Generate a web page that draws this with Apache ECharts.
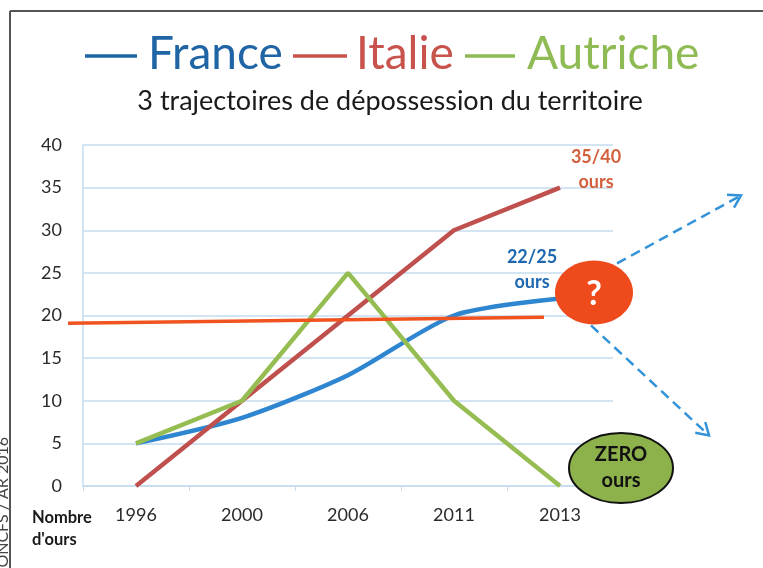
<!DOCTYPE html>
<html><head><meta charset="utf-8">
<script src="https://cdn.jsdelivr.net/npm/echarts@6/dist/echarts.min.js"></script>
<style>html,body{margin:0;padding:0;background:#fff}#c{width:763px;height:568px}</style>
</head><body><div id="c"></div>
<script>
// ---- data ----
const years = ['1996', '2000', '2006', '2011', '2013'];
const france = [5, 8, 13, 20, 22];
const italie = [0, 10, 20, 30, 35];
const autriche = [5, 10, 25, 10, 0];
const yMin = 0, yMax = 40, yStep = 5;
const refLevel = [19.1, 19.8]; // orange horizontal line (left, right)
const seriesNames = ['France', 'Italie', 'Autriche'];
const titleText = '3 trajectoires de dépossession du territoire';
const axisName = ['Nombre', "d'ours"];
const noteItalie = ['35/40', 'ours'];
const noteFrance = ['22/25', 'ours'];
const noteAutriche = ['ZERO', 'ours'];
const sideNote = '© ONCFS / AR 2016';

// ---- styles ----
const C = { fr: '#2f86d0', it: '#c0504d', au: '#96bd51', ref: '#f0531f', grid: '#c5dcef', txt: '#2b2b2b' };
const TC = ['#1f64a4', '#c8524c', '#8fbb55'];
const FONT = 'Lato, "Open Sans", sans-serif';

const chart = echarts.init(document.getElementById('c'), null, { renderer: 'canvas' });
const gridL = 83, gridR = 150, gridT = 145, gridB = 82;

function line(name, data, color, smooth) {
  return { name, type: 'line', data, smooth, symbol: 'none', lineStyle: { color, width: 4.5 }, itemStyle: { color }, z: 3 };
}

chart.setOption({
  backgroundColor: '#fff',
  animation: false,
  grid: { left: gridL, right: gridR, top: gridT, bottom: gridB },
  xAxis: {
    type: 'category', data: years, boundaryGap: true,
    axisLine: { lineStyle: { color: C.grid, width: 1.5 } },
    axisTick: { show: true, length: 5, lineStyle: { color: C.grid } },
    axisLabel: { color: C.txt, fontSize: 18, fontFamily: FONT, margin: 20 }
  },
  yAxis: {
    type: 'value', min: yMin, max: yMax, interval: yStep,
    axisLine: { show: true, lineStyle: { color: C.grid, width: 1.5 } },
    axisTick: { show: false },
    splitLine: { lineStyle: { color: C.grid, width: 1.5 } },
    axisLabel: { color: C.txt, fontSize: 18, fontFamily: FONT, margin: 21 }
  },
  series: [
    line(seriesNames[0], france, C.fr, 0.25),
    line(seriesNames[1], italie, C.it, false),
    line(seriesNames[2], autriche, C.au, false)
  ]
});

const xPix = i => chart.convertToPixel({ xAxisIndex: 0 }, years[i]);
const yPix = v => chart.convertToPixel({ yAxisIndex: 0 }, v);
const last = years.length - 1;
const xLast = xPix(last);

const qx = xLast + 34, qy = yPix(france[last]) - 6;
const zx = xLast + 61, zy = yPix(0) - 19;

function arrowHead(x1, y1, x2, y2, len) {
  const a = Math.atan2(y2 - y1, x2 - x1);
  const s = 0.55;
  return [[x2 - len * Math.cos(a - s), y2 - len * Math.sin(a - s)], [x2, y2], [x2 - len * Math.cos(a + s), y2 - len * Math.sin(a + s)]];
}
const a1 = [qx + 23, qy - 29, qx + 147, qy - 97];
const a2 = [qx - 3, qy + 33, qx + 115, qy + 143];

// title layout: [dashStart, dashEnd, wordX]
const titleLayout = [[85, 137, 148], [293, 347, 356], [465, 515, 527]];
const titleY = 54;
const titleGraphics = [];
seriesNames.forEach((n, i) => {
  const [d0, d1, wx] = titleLayout[i];
  titleGraphics.push({ type: 'line', shape: { x1: d0, y1: titleY + 2, x2: d1, y2: titleY + 2 }, style: { stroke: TC[i], lineWidth: 3.5 } });
  titleGraphics.push({ type: 'text', x: wx, y: titleY, style: { text: n, align: 'left', verticalAlign: 'middle', fill: TC[i], font: '46px ' + FONT } });
});

chart.setOption({
  graphic: [
    // frame
    { type: 'line', shape: { x1: 10, y1: 11, x2: 763, y2: 11 }, style: { stroke: '#555', lineWidth: 2 } },
    { type: 'line', shape: { x1: 10, y1: 11, x2: 10, y2: 568 }, style: { stroke: '#555', lineWidth: 2 } },
    { type: 'text', rotation: Math.PI / 2, x: -5, y: 585, style: { text: sideNote, fill: '#444', font: '16px ' + FONT } },
    ...titleGraphics,
    { type: 'text', x: 390, y: 101, style: { text: titleText, align: 'center', verticalAlign: 'middle', fill: '#1a1a1a', font: '27px ' + FONT } },
    // axis name
    { type: 'text', x: 32, y: 518, style: { text: axisName[0], verticalAlign: 'middle', fill: '#1a1a1a', font: 'bold 16.5px ' + FONT } },
    { type: 'text', x: 32, y: 540, style: { text: axisName[1], verticalAlign: 'middle', fill: '#1a1a1a', font: 'bold 16.5px ' + FONT } },
    // orange reference line
    { type: 'line', z: 5, shape: { x1: gridL - 15, y1: yPix(refLevel[0]), x2: xLast - 16, y2: yPix(refLevel[1]) }, style: { stroke: C.ref, lineWidth: 3.5 } },
    // notes
    { type: 'text', x: xLast + 36, y: yPix(italie[last]) - 18, style: { text: noteItalie[0] + '\n' + noteItalie[1], align: 'center', verticalAlign: 'middle', lineHeight: 25, fill: '#d3603d', font: 'bold 18px ' + FONT } },
    { type: 'text', x: xLast - 28, y: yPix(france[last]) - 29, style: { text: noteFrance[0] + '\n' + noteFrance[1], align: 'center', verticalAlign: 'middle', lineHeight: 25, fill: '#1d68b0', font: 'bold 18px ' + FONT } },
    // dashed arrows
    { type: 'line', z: 4, shape: { x1: a1[0], y1: a1[1], x2: a1[2], y2: a1[3] }, style: { stroke: '#3393d9', lineWidth: 2.5, lineDash: [10, 6] } },
    { type: 'polyline', z: 4, shape: { points: arrowHead(...a1, 14) }, style: { stroke: '#3393d9', lineWidth: 2.5, fill: null } },
    { type: 'line', z: 4, shape: { x1: a2[0], y1: a2[1], x2: a2[2], y2: a2[3] }, style: { stroke: '#3393d9', lineWidth: 2.5, lineDash: [10, 6] } },
    { type: 'polyline', z: 4, shape: { points: arrowHead(...a2, 14) }, style: { stroke: '#3393d9', lineWidth: 2.5, fill: null } },
    // question circle
    { type: 'ellipse', z: 6, shape: { cx: qx, cy: qy, rx: 39, ry: 32 }, style: { fill: '#ee4a1c' } },
    { type: 'text', z: 7, x: qx, y: qy + 2, style: { text: '?', align: 'center', verticalAlign: 'middle', fill: '#fff', font: 'bold 34px ' + FONT } },
    // zero ellipse
    { type: 'ellipse', z: 6, shape: { cx: zx, cy: zy + 1, rx: 52, ry: 35 }, style: { fill: '#8db14b', stroke: '#111', lineWidth: 2 } },
    { type: 'text', z: 7, x: zx, y: zy + 1, style: { text: noteAutriche[0] + '\n' + noteAutriche[1], align: 'center', verticalAlign: 'middle', lineHeight: 26, fill: '#111', font: 'bold 20px ' + FONT } }
  ]
});
</script>
</body></html>
